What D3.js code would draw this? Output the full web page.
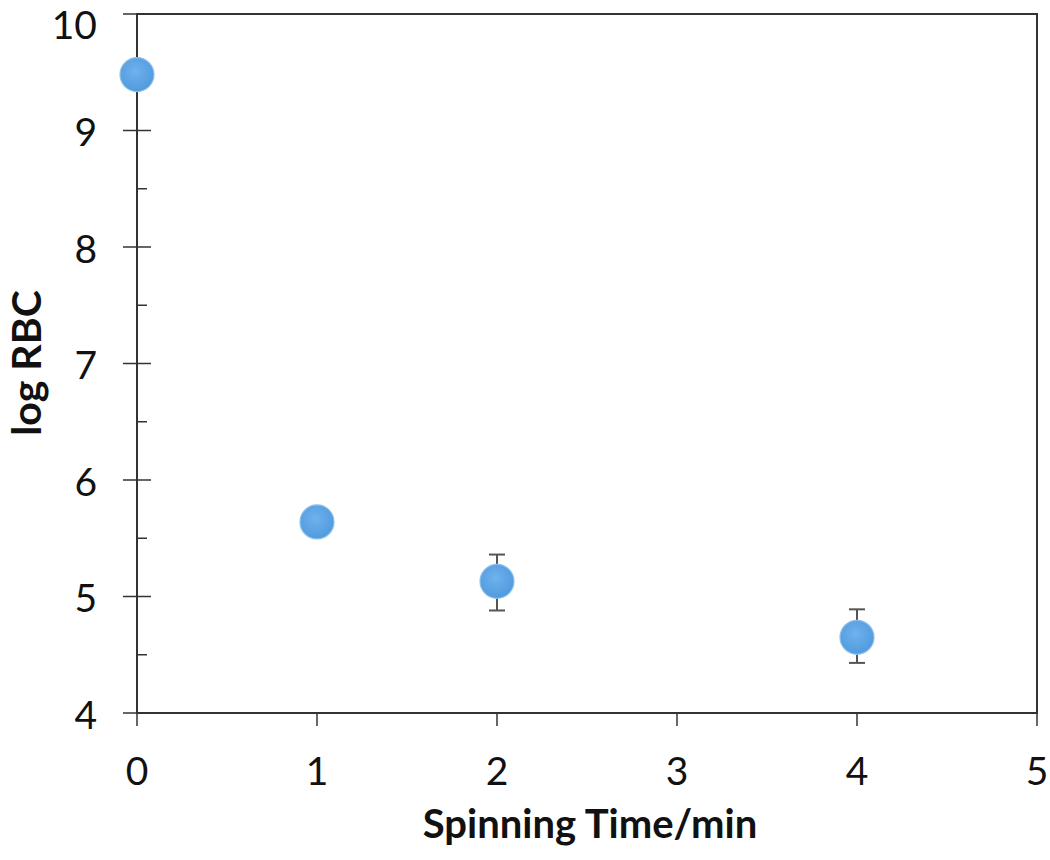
<!DOCTYPE html>
<html><head><meta charset="utf-8">
<script src="https://cdn.jsdelivr.net/npm/d3@7"></script>
<style>body{margin:0;background:#fff;} svg{display:block;}</style>
</head><body>
<svg id="chart" width="1050" height="860"></svg>
<script>
const times = [0, 1, 2, 4];
const logRBC = [9.48, 5.64, 5.13, 4.65];
const errLow = [null, null, 4.88, 4.43];
const errHigh = [null, null, 5.36, 4.89];
const xTicks = [0, 1, 2, 3, 4, 5];
const yTicks = [4, 5, 6, 7, 8, 9, 10];
const yMinor = [4.5, 5.5, 6.5, 7.5, 8.5, 9.5];

const svg = d3.select("#chart");
const L = 137, R = 1037, T = 14, B = 713;
const x = d3.scaleLinear().domain([0, 5]).range([L, R]);
const y = d3.scaleLinear().domain([4, 10]).range([B, T]);
const font = "Lato, 'Open Sans', 'Liberation Sans', sans-serif";

const defs = svg.append("defs");
const g = defs.append("radialGradient").attr("id", "dot").attr("cx", "45%").attr("cy", "40%").attr("r", "65%");
g.append("stop").attr("offset", "0%").attr("stop-color", "#6fb2ee");
g.append("stop").attr("offset", "100%").attr("stop-color", "#4d98dc");

// frame
svg.append("rect").attr("x", L).attr("y", T).attr("width", R - L).attr("height", B - T)
  .attr("fill", "none").attr("stroke", "#333").attr("stroke-width", 2);

// y major ticks (crossing)
svg.selectAll(".ymaj").data(yTicks).enter().append("line")
  .attr("x1", L - 14).attr("x2", d => d === 10 || d === 4 ? L : L + 14).attr("y1", d => y(d)).attr("y2", d => y(d))
  .attr("stroke", "#333").attr("stroke-width", 1.5);
// y minor ticks inside
svg.selectAll(".ymin").data(yMinor).enter().append("line")
  .attr("x1", L).attr("x2", L + 10).attr("y1", d => y(d)).attr("y2", d => y(d))
  .attr("stroke", "#333").attr("stroke-width", 1.5);
// x ticks outside
svg.selectAll(".xt").data(xTicks).enter().append("line")
  .attr("x1", d => x(d)).attr("x2", d => x(d)).attr("y1", B).attr("y2", B + 13)
  .attr("stroke", "#333").attr("stroke-width", 1.5);

// tick labels
svg.selectAll(".yl").data(yTicks).enter().append("text")
  .attr("x", 97).attr("y", d => Math.max(y(d) + 2, 25)).attr("dy", "0.35em").attr("text-anchor", "end")
  .attr("font-family", font).attr("font-size", 39).attr("fill", "#111").text(d => d);
svg.selectAll(".xl").data(xTicks).enter().append("text")
  .attr("x", d => x(d)).attr("y", 785).attr("text-anchor", "middle")
  .attr("font-family", font).attr("font-size", 39).attr("fill", "#111").text(d => d);

// axis titles
svg.append("text").attr("x", 590).attr("y", 838).attr("text-anchor", "middle")
  .attr("font-family", font).attr("font-weight", "bold").attr("font-size", 40).attr("fill", "#111")
  .text("Spinning Time/min");
svg.append("text").attr("transform", "translate(41,363) rotate(-90)").attr("text-anchor", "middle")
  .attr("font-family", font).attr("font-weight", "bold").attr("font-size", 41).attr("fill", "#111")
  .text("log RBC");

// error bars
const eb = times.map((t, i) => ({t, lo: errLow[i], hi: errHigh[i]})).filter(d => d.lo !== null);
const ebG = svg.selectAll(".eb").data(eb).enter().append("g").attr("stroke", "#555").attr("stroke-width", 2);
ebG.append("line").attr("x1", d => x(d.t)).attr("x2", d => x(d.t)).attr("y1", d => y(d.lo)).attr("y2", d => y(d.hi));
ebG.append("line").attr("x1", d => x(d.t) - 8).attr("x2", d => x(d.t) + 8).attr("y1", d => y(d.lo)).attr("y2", d => y(d.lo));
ebG.append("line").attr("x1", d => x(d.t) - 8).attr("x2", d => x(d.t) + 8).attr("y1", d => y(d.hi)).attr("y2", d => y(d.hi));

// points
svg.selectAll(".pt").data(times.map((t, i) => ({t, v: logRBC[i]}))).enter().append("circle")
  .attr("cx", d => x(d.t)).attr("cy", d => y(d.v)).attr("r", 17)
  .attr("fill", "url(#dot)").attr("stroke", "#8ec0ea").attr("stroke-width", 1.2);
</script>
</body></html>
